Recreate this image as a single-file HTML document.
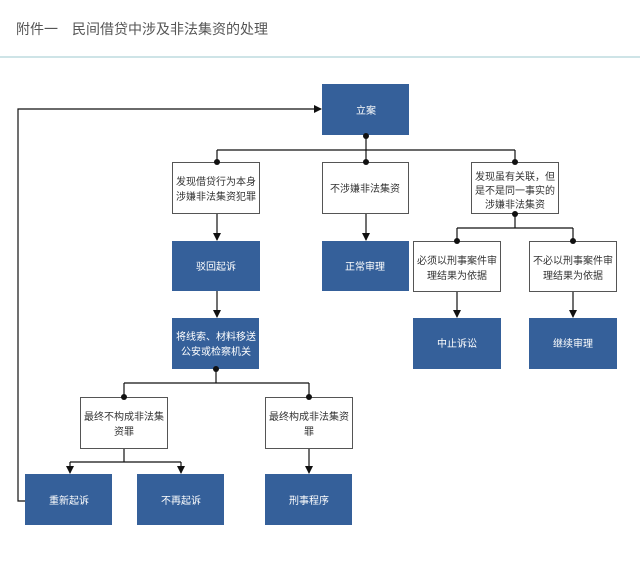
<!DOCTYPE html>
<html><head><meta charset="utf-8"><style>
body{margin:0;background:#fff;width:640px;height:569px;overflow:hidden}
svg text{font-family:"Liberation Sans","Noto Sans CJK SC",sans-serif;font-size:10px;text-anchor:middle}
.t{fill:#333}.w{fill:#fff}
</style></head><body>
<svg width="640" height="569" xmlns="http://www.w3.org/2000/svg">
<defs><marker id="a" markerWidth="8" markerHeight="8" refX="7" refY="4" orient="auto" markerUnits="userSpaceOnUse"><path d="M0,0L8,4L0,8z" fill="#111"/></marker></defs>
<text x="16" y="34" style="font-size:14px;text-anchor:start;fill:#555">附件一　民间借贷中涉及非法集资的处理</text>
<line x1="0" y1="57" x2="640" y2="57" stroke="#9cc9cf" stroke-width="1"/>
<g stroke="#111" stroke-width="1.2" fill="none">
<path d="M25,501H18V109H321" marker-end="url(#a)"/>
<path d="M366,135V150M217,150H515M217,150V162M366,150V162M515,150V162"/>
<path d="M217,214V240" marker-end="url(#a)"/><path d="M366,214V240" marker-end="url(#a)"/>
<path d="M515,214V228M457,228H573M457,228V241M573,228V241"/>
<path d="M457,292V317" marker-end="url(#a)"/><path d="M573,292V317" marker-end="url(#a)"/>
<path d="M217,291V317" marker-end="url(#a)"/>
<path d="M216,369V383M124,383H309M124,383V397M309,383V397"/>
<path d="M124,448V462M70,462H181"/>
<path d="M70,462V473" marker-end="url(#a)"/><path d="M181,462V473" marker-end="url(#a)"/>
<path d="M309,448V473" marker-end="url(#a)"/>
</g>
<g fill="#35609a">
<rect x="322" y="84" width="87" height="51"/>
<rect x="172" y="241" width="88" height="50"/><rect x="322" y="241" width="87" height="50"/>
<rect x="413" y="318" width="88" height="51"/><rect x="529" y="318" width="88" height="51"/>
<rect x="172" y="318" width="87" height="51"/>
<rect x="25" y="474" width="87" height="51"/><rect x="137" y="474" width="87" height="51"/><rect x="265" y="474" width="87" height="51"/>
</g>
<g fill="#fff" stroke="#555" stroke-width="1">
<rect x="172.5" y="162.5" width="87" height="51"/><rect x="322.5" y="162.5" width="86" height="51"/><rect x="471.5" y="162.5" width="87" height="51"/>
<rect x="413.5" y="241.5" width="87" height="50"/><rect x="529.5" y="241.5" width="87" height="50"/>
<rect x="80.5" y="397.5" width="87" height="51"/><rect x="265.5" y="397.5" width="87" height="51"/>
</g>
<g fill="#111">
<circle cx="366" cy="136" r="3"/><circle cx="217" cy="162" r="3"/><circle cx="366" cy="162" r="3"/><circle cx="515" cy="162" r="3"/>
<circle cx="515" cy="214" r="3"/><circle cx="457" cy="241" r="3"/><circle cx="573" cy="241" r="3"/>
<circle cx="216" cy="369" r="3"/><circle cx="124" cy="397" r="3"/><circle cx="309" cy="397" r="3"/>
</g>
<text class="w" x="366" y="114">立案</text>
<text class="t" x="216" y="185">发现借贷行为本身</text><text class="t" x="216" y="200">涉嫌非法集资犯罪</text>
<text class="t" x="365" y="192">不涉嫌非法集资</text>
<text class="t" x="515" y="180">发现虽有关联，但</text><text class="t" x="515" y="194">是不是同一事实的</text><text class="t" x="515" y="208">涉嫌非法集资</text>
<text class="w" x="216" y="270">驳回起诉</text><text class="w" x="365" y="270">正常审理</text>
<text class="t" x="457" y="264">必须以刑事案件审</text><text class="t" x="457" y="279">理结果为依据</text>
<text class="t" x="573" y="264">不必以刑事案件审</text><text class="t" x="573" y="279">理结果为依据</text>
<text class="w" x="457" y="347">中止诉讼</text><text class="w" x="573" y="347">继续审理</text>
<text class="w" x="216" y="340">将线索、材料移送</text><text class="w" x="216" y="355">公安或检察机关</text>
<text class="t" x="124" y="420">最终不构成非法集</text><text class="t" x="124" y="435">资罪</text>
<text class="t" x="309" y="420">最终构成非法集资</text><text class="t" x="309" y="435">罪</text>
<text class="w" x="69" y="504">重新起诉</text><text class="w" x="181" y="504">不再起诉</text><text class="w" x="309" y="504">刑事程序</text>
</svg>
</body></html>
